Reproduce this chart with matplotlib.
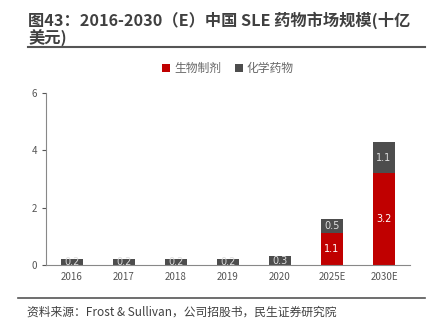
import matplotlib
matplotlib.use('Agg')
import matplotlib.pyplot as plt
import numpy as np

plt.rcParams['font.family'] = ['Noto Sans CJK SC', 'DejaVu Sans']

# 数据
years = ['2016', '2017', '2018', '2019', '2020', '2025E', '2030E']
bio = [0, 0, 0, 0, 0, 1.1, 3.2]
chem = [0.2, 0.2, 0.2, 0.2, 0.3, 0.5, 1.1]

red = '#C00000'
gray = '#4D4D4D'

fig = plt.figure(figsize=(4.33, 3.24), dpi=100)
ax = fig.add_axes([0.106, 0.182, 0.841, 0.531])

x = np.arange(len(years))
w = 0.42
ax.bar(x, bio, w, color=red, label='生物制剂')
ax.bar(x, chem, w, bottom=bio, color=gray, label='化学药物')

for i in range(len(years)):
    if bio[i] > 0:
        ax.text(x[i], bio[i] / 2, '%.1f' % bio[i], ha='center', va='center',
                color='white', fontsize=7, family='DejaVu Sans')
    ax.text(x[i], bio[i] + chem[i] / 2, '%.1f' % chem[i], ha='center', va='center',
            color='#DDDDDD', fontsize=7, family='DejaVu Sans')

ax.set_xlim(-0.5, 6.5)
ax.set_ylim(0, 6)
ax.set_yticks([0, 2, 4, 6])
ax.set_xticks(x)
ax.set_xticklabels(years)
ax.tick_params(axis='both', labelsize=7, colors='#555555', length=3)
ax.tick_params(axis='x', length=0, pad=5)
for s in ['top', 'right']:
    ax.spines[s].set_visible(False)
ax.spines['left'].set_color('#888888')
ax.spines['bottom'].set_color('#888888')

leg = ax.legend(loc='lower center', bbox_to_anchor=(0.5, 1.04), ncol=2, frameon=False,
                fontsize=8.5, handlelength=0.7, handleheight=0.7, handletextpad=0.3,
                columnspacing=1.2, labelcolor='#666666')

# 标题
fig.text(0.065, 0.965, '图43：2016-2030（E）中国 SLE 药物市场规模(十亿\n美元)',
         fontsize=11.7, fontweight='bold', color='#404040', va='top', linespacing=1.05)
fig.add_artist(plt.Line2D([0.065, 0.982], [0.855, 0.855], color='#555555', lw=1.5))

# 来源
fig.add_artist(plt.Line2D([0.042, 0.982], [0.08, 0.08], color='#555555', lw=1.2))
fig.text(0.062, 0.036, '资料来源：Frost & Sullivan，公司招股书，民生证券研究院',
         fontsize=8.5, color='#404040', va='center')

plt.savefig('out.png', dpi=100)
